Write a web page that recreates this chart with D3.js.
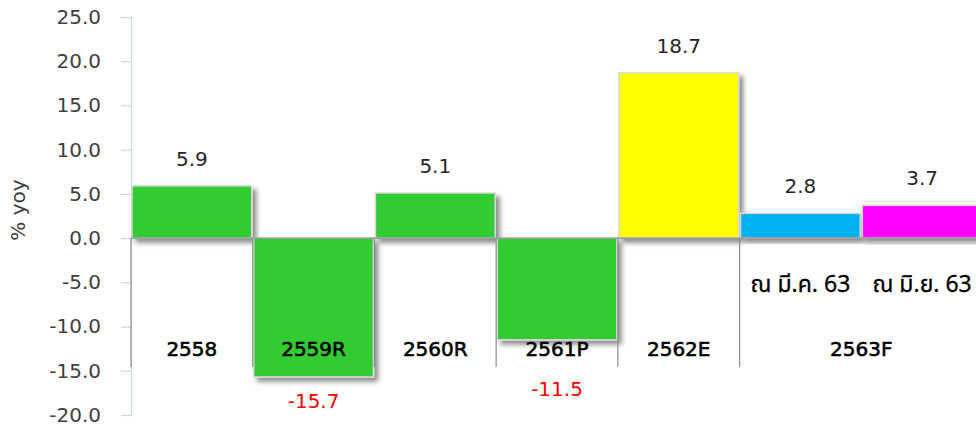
<!DOCTYPE html>
<html>
<head>
<meta charset="utf-8">
<script src="https://cdn.jsdelivr.net/npm/d3@7"></script>
<style>
  body { margin: 0; background: #fff; }
  #chart { width: 976px; height: 430px; overflow: hidden; }
  text { font-family: "DejaVu Sans", "Noto Sans", sans-serif; }
</style>
</head>
<body>
<div id="chart"></div>
<script>
/*#########
  Data
#########*/
const yearLabels = ["2558", "2559R", "2560R", "2561P", "2562E", "2563F", "2563F"];
const subLabels = ["", "", "", "", "", "ณ มี.ค. 63", "ณ มิ.ย. 63"];
const values = [5.9, -15.7, 5.1, -11.5, 18.7, 2.8, 3.7];
const yTicks = [-20, -15, -10, -5, 0, 5, 10, 15, 20, 25];
const yTitle = "% yoy";

/*#########
  Global
#########*/
const width = 976;
const height = 430;
const colors = ["#33cc33", "#33cc33", "#33cc33", "#33cc33", "#ffff00", "#00b0f0", "#ff00ff"];
// extra push down for negative value labels (moved by hand in the original)
const negLabelGap = [0, 0, 0, 25, 0, 0, 0];

const svg = d3.select("#chart")
    .append("svg")
    .attr("width", width)
    .attr("height", height);

// soft shadow behind the bars
const filter = svg.append("defs").append("filter")
    .attr("id", "shadow")
    .attr("x", "-10%").attr("y", "-10%")
    .attr("width", "130%").attr("height", "130%");
filter.append("feDropShadow")
    .attr("dx", 4).attr("dy", 4)
    .attr("stdDeviation", 2.5)
    .attr("flood-color", "#000")
    .attr("flood-opacity", 0.45);

//Scales
const x = d3.scaleBand()
    .domain(d3.range(values.length))
    .range([131, 983])
    .padding(0);

const y = d3.scaleLinear()
    .domain([-20, 25])
    .range([415, 17]);

/*###########
  Y axis
###########*/
const yAxis = svg.append("g")
    .attr("transform", "translate(131,0)")
    .call(d3.axisLeft(y).tickValues(yTicks).tickSize(10).tickPadding(20)
        .tickFormat(d => d.toFixed(1)));
yAxis.select(".domain").attr("stroke", "#c6d9f1").attr("stroke-width", 1.2);
yAxis.selectAll(".tick line").attr("stroke", "#c6d9f1").attr("stroke-width", 1.2);
yAxis.selectAll(".tick text")
    .attr("fill", "#404040")
    .style("font-size", "20px")
    .style("font-family", "DejaVu Sans");

svg.append("text")
    .attr("transform", "translate(25,210) rotate(-90)")
    .attr("text-anchor", "middle")
    .attr("fill", "#404040")
    .style("font-size", "20px")
    .text(yTitle);

/*###########
  Bars
###########*/
svg.append("g")
    .selectAll("rect")
    .data(values)
    .join("rect")
    .attr("x", (d, i) => x(i) + 1)
    .attr("y", d => y(Math.max(0, d)))
    .attr("width", x.bandwidth() - 2)
    .attr("height", d => Math.abs(y(d) - y(0)))
    .attr("fill", (d, i) => colors[i])
    .attr("stroke", "#d9d9d9")
    .attr("stroke-width", 1.5)
    .attr("filter", "url(#shadow)");

/*###########
  Category axis
###########*/
const baseY = y(0);
const sepBottom = 367;

// zero line
svg.append("line")
    .attr("x1", 131).attr("x2", width)
    .attr("y1", baseY).attr("y2", baseY)
    .attr("stroke", "#8c8c8c").attr("stroke-width", 1.2);

// group separators (year groups may span several bars)
const groups = d3.groups(d3.range(values.length), i => yearLabels[i]);
const bounds = [x(0)];
groups.forEach(g => bounds.push(x(g[1][g[1].length - 1]) + x.bandwidth()));
svg.append("g")
    .selectAll("line")
    .data(bounds.filter(b => b < width))
    .join("line")
    .attr("x1", d => d).attr("x2", d => d)
    .attr("y1", baseY).attr("y2", sepBottom)
    .attr("stroke", "#8c8c8c").attr("stroke-width", 1.2);

svg.append("g")
    .selectAll("text")
    .data(groups)
    .join("text")
    .attr("x", g => (x(g[1][0]) + x(g[1][g[1].length - 1]) + x.bandwidth()) / 2)
    .attr("y", 356)
    .attr("text-anchor", "middle")
    .attr("fill", "#000")
    .attr("stroke", "#000")
    .attr("stroke-width", 0.6)
    .style("font-size", "20px")
    .text(g => g[0]);

svg.append("g")
    .selectAll("text")
    .data(subLabels)
    .join("text")
    .attr("x", (d, i) => x(i) + x.bandwidth() / 2)
    .attr("y", 292)
    .attr("text-anchor", "middle")
    .attr("fill", "#000")
    .attr("stroke", "#000")
    .attr("stroke-width", 0.3)
    .style("font-size", "23px")
    .style("font-family", "Noto Sans Thai, Noto Sans, DejaVu Sans, sans-serif")
    .text(d => d);

/*###########
  Value labels
###########*/
svg.append("g")
    .selectAll("text")
    .data(values)
    .join("text")
    .attr("x", (d, i) => x(i) + x.bandwidth() / 2)
    .attr("y", (d, i) => d >= 0 ? y(d) - 20 : y(d) + 31 + negLabelGap[i])
    .attr("text-anchor", "middle")
    .attr("fill", d => d >= 0 ? "#262626" : "#ff0000")
    .style("font-size", "20px")
    .text(d => d.toFixed(1));
</script>
</body>
</html>
